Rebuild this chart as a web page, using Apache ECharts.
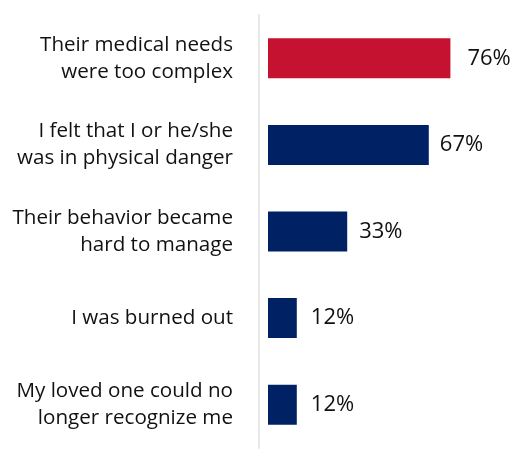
<!DOCTYPE html>
<html>
<head>
<meta charset="utf-8">
<script src="https://cdn.jsdelivr.net/npm/echarts@6/dist/echarts.min.js"></script>
<style>
  html, body { margin: 0; padding: 0; background: #fff; }
  #main { width: 515px; height: 457px; }
</style>
</head>
<body>
<div id="main"></div>
<script>
var categories = [
  'Their medical needs\nwere too complex',
  'I felt that I or he/she\nwas in physical danger',
  'Their behavior became\nhard to manage',
  'I was burned out',
  'My loved one could no\nlonger recognize me'
];
var values = [76, 67, 33, 12, 12];
var barColors = ['#C41230', '#002163', '#002163', '#002163', '#002163'];
var labelGaps = [17, 11, 12, 14, 14];

var chart = echarts.init(document.getElementById('main'));

var seriesData = [];
for (var i = 0; i < values.length; i++) {
  seriesData.push({
    value: values[i],
    itemStyle: { color: barColors[i] },
    label: { distance: labelGaps[i] }
  });
}

var option = {
  animation: false,
  grid: { left: 268, top: 15, width: 240, height: 433 },
  xAxis: {
    type: 'value',
    min: 0,
    max: 100,
    show: false
  },
  yAxis: {
    type: 'category',
    inverse: true,
    data: categories,
    offset: 9,
    axisLine: { show: true, onZero: false, lineStyle: { color: '#e8e8e8', width: 2 } },
    axisTick: { show: false },
    axisLabel: {
      margin: 26,
      fontFamily: 'Open Sans',
      fontSize: 20.6,
      lineHeight: 27,
      color: '#111',
      align: 'right'
    }
  },
  series: [{
    type: 'bar',
    data: seriesData,
    barWidth: 40,
    label: {
      show: true,
      position: 'right',
      formatter: '{c}%',
      fontFamily: 'Open Sans',
      fontSize: 22,
      color: '#111'
    }
  }]
};

chart.setOption(option);
</script>
</body>
</html>
